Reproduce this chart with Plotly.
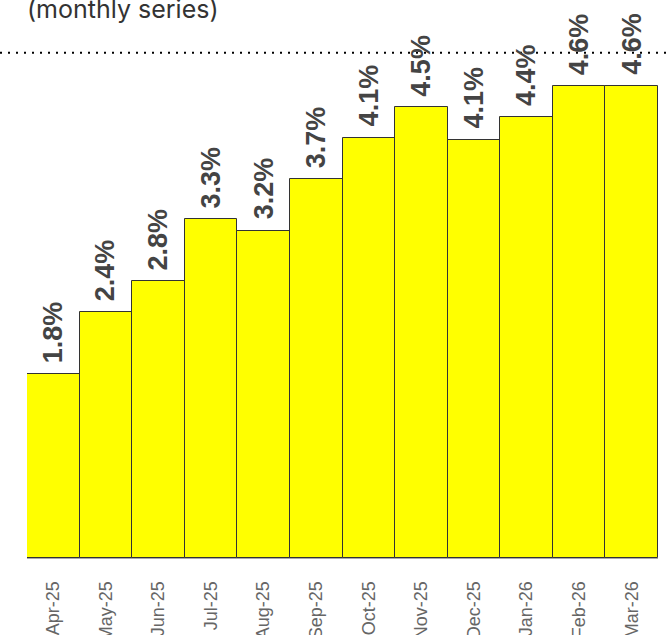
import plotly.graph_objects as go

months = ["Apr-25", "May-25", "Jun-25", "Jul-25", "Aug-25", "Sep-25",
          "Oct-25", "Nov-25", "Dec-25", "Jan-26", "Feb-26", "Mar-26"]
values = [1.82, 2.43, 2.74, 3.35, 3.24, 3.75, 4.16, 4.46, 4.14, 4.36, 4.67, 4.67]
labels = ["1.8%", "2.4%", "2.8%", "3.3%", "3.2%", "3.7%",
          "4.1%", "4.5%", "4.1%", "4.4%", "4.6%", "4.6%"]
reference_level = 5.0
subtitle = "(monthly series)"

fig = go.Figure()
fig.add_trace(go.Bar(
    x=months, y=values,
    marker=dict(color="#FFFF00", line=dict(color="#333333", width=1)),
    hoverinfo="skip",
))

for m, v, t in zip(months, values, labels):
    fig.add_annotation(
        x=m, y=v, xref="x", yref="y", text=t, showarrow=False,
        textangle=-90, yanchor="bottom", xanchor="center", yshift=9,
        font=dict(family="Liberation Sans, Arial, sans-serif", size=27, color="#444444", weight="bold"),
    )

fig.add_shape(
    type="line", xref="paper", yref="y",
    x0=-27 / 631, x1=1 + 8 / 631, y0=reference_level, y1=reference_level,
    line=dict(color="#000000", width=2, dash="2px,6px"), layer="above",
)

fig.update_layout(
    width=666, height=635,
    margin=dict(l=27, r=8, t=0, b=77),
    paper_bgcolor="white", plot_bgcolor="white",
    bargap=0, showlegend=False,
    title=dict(
        text=subtitle, x=27 / 666, xanchor="left", xref="container",
        y=1 - 18 / 635, yanchor="bottom", yref="container",
        font=dict(family="Inter, sans-serif", size=25, color="#333333"),
    ),
    xaxis=dict(
        type="category", tickangle=-90, automargin=False,
        tickfont=dict(family="Liberation Sans, Arial, sans-serif", size=18, color="#666666"),
        showline=True, linecolor="#aaaaaa", linewidth=1, showgrid=False,
        ticks="", ticklabelstandoff=15,
    ),
    yaxis=dict(range=[0, 558 / 101.06], visible=False, showgrid=False, zeroline=False),
)

fig.write_html("out.html")
